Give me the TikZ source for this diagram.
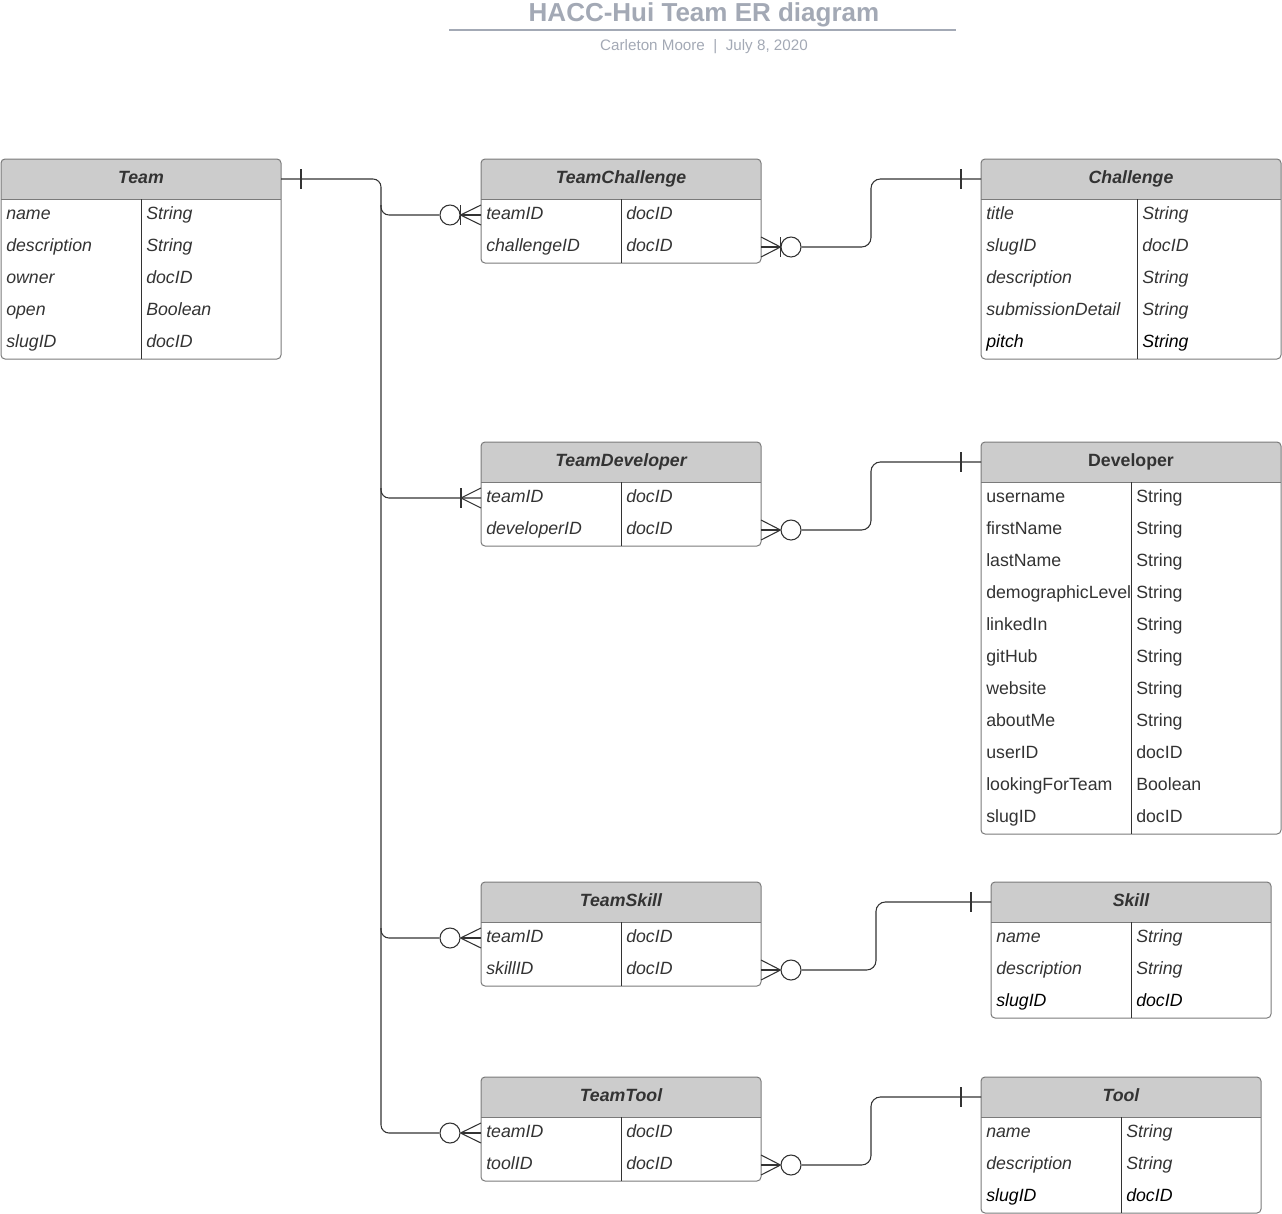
\documentclass[tikz,border=0pt]{standalone}
\usepackage{fontspec}
\setmainfont{Liberation Sans}
\usetikzlibrary{calc}
\definecolor{txt}{HTML}{333333}
\definecolor{headfill}{HTML}{CCCCCC}
\definecolor{bordergray}{HTML}{7A7A7A}
\definecolor{titlecol}{HTML}{A3A9B5}
\definecolor{conncol}{HTML}{333333}
\newcommand\rowfont{\fontsize{13.3}{16}\selectfont}
% #1 name, #2 left, #3 top, #4 width, #5 divider offset, #6 rows, #7 title, #8 shape, #9 rows list
\newcommand\ERtable[9]{%
  \pgfmathsetmacro\ERh{40+32*#6}%
  \begin{scope}
    \clip[rounded corners=3pt] (#2,#3) rectangle ++(#4,\ERh);
    \fill[headfill] (#2,#3) rectangle ++(#4,40);
  \end{scope}
  \node[tablebox, minimum width=#4*0.75pt, minimum height=\ERh*0.75pt] (#1) at (#2,#3) {};
  \draw[bordergray, line width=0.75pt] (#2,#3+40) -- (#2+#4,#3+40);
  \draw[txt, line width=0.75pt] (#2+#5,#3+40) -- (#2+#5,#3+\ERh);
  \node[anchor=base, text=txt, font=\rowfont\bfseries#8, inner sep=0] (#1-title) at (#2+#4/2,#3+24.5) {#7};
  \foreach \a/\b/\c [count=\i] in {#9} {
    \node[anchor=base west, text=\c, font=\rowfont#8, inner sep=0] (#1-\i a) at (#2+5,#3+28+32*\i) {\a};
    \node[anchor=base west, text=\c, font=\rowfont#8, inner sep=0] (#1-\i b) at (#2+#5+5,#3+28+32*\i) {\b};
  }%
}
\begin{document}
\begin{tikzpicture}[x=0.75pt, y=-0.75pt,
  tablebox/.style={draw=bordergray, line width=0.75pt, rounded corners=3pt, anchor=north west, inner sep=0pt, outer sep=0pt},
  conn/.style={draw=conncol, line width=0.8pt},
  ring/.style={draw=conncol, line width=0.8pt, fill=white, circle, minimum size=15pt, inner sep=0pt}]
\useasboundingbox (0,0) rectangle (1282,1214);

% title
\node[anchor=base, text=titlecol, font=\fontsize{19.5}{22}\selectfont\bfseries, inner sep=0] (title) at (704,21) {HACC-Hui Team ER diagram};
\draw[titlecol, line width=1.5pt] (449,30) coordinate (ulA) -- (956,30) coordinate (ulB);
\node[anchor=base, text=titlecol, font=\fontsize{11.4}{14}\selectfont, inner sep=0] (subtitle) at (704,50.5) {Carleton Moore\ \ |\ \ July 8, 2020};

% tables
\ERtable{Team}{1}{159}{280}{140}{5}{Team}{\itshape}{name/String/txt, description/String/txt, owner/docID/txt, open/Boolean/txt, slugID/docID/txt}
\ERtable{TC}{481}{159}{280}{140}{2}{TeamChallenge}{\itshape}{teamID/docID/txt, challengeID/docID/txt}
\ERtable{Ch}{981}{159}{300}{156}{5}{Challenge}{\itshape}{title/String/txt, slugID/docID/txt, description/String/txt, submissionDetail/String/txt, pitch/String/black}
\ERtable{TD}{481}{442}{280}{140}{2}{TeamDeveloper}{\itshape}{teamID/docID/txt, developerID/docID/txt}
\ERtable{Dev}{981}{442}{300}{150}{11}{Developer}{\upshape}{username/String/txt, firstName/String/txt, lastName/String/txt, demographicLevel/String/txt, linkedIn/String/txt, gitHub/String/txt, website/String/txt, aboutMe/String/txt, userID/docID/txt, lookingForTeam/Boolean/txt, slugID/docID/txt}
\ERtable{TS}{481}{882}{280}{140}{2}{TeamSkill}{\itshape}{teamID/docID/txt, skillID/docID/txt}
\ERtable{Sk}{991}{882}{280}{140}{3}{Skill}{\itshape}{name/String/txt, description/String/txt, slugID/docID/black}
\ERtable{TT}{481}{1077}{280}{140}{2}{TeamTool}{\itshape}{teamID/docID/txt, toolID/docID/txt}
\ERtable{To}{981}{1077}{280}{140}{3}{Tool}{\itshape}{name/String/txt, description/String/txt, slugID/docID/black}

% --- left side: Team trunk and branches
\coordinate (teamOut) at ($(Team.north east)+(0,20)$);
\coordinate (tcIn) at ($(TC.north west)+(0,56)$);
\coordinate (tdIn) at ($(TD.north west)+(0,56)$);
\coordinate (tsIn) at ($(TS.north west)+(0,56)$);
\coordinate (ttIn) at ($(TT.north west)+(0,56)$);
\node[ring] (tcRing) at ($(tcIn)+(-31,0)$) {};
\node[ring] (tsRing) at ($(tsIn)+(-31,0)$) {};
\node[ring] (ttRing) at ($(ttIn)+(-31,0)$) {};
\coordinate (tdFoot) at ($(tdIn)+(-20,0)$);

\draw[conn, rounded corners=6pt] (teamOut) -- (381,179) -- (381,1133) -- (ttRing.west);
\draw[conn, rounded corners=6pt] (381,205) -- (381,215) -- (tcRing.west);
\draw[conn, rounded corners=6pt] (381,488) -- (381,498) -- (tdIn);
\draw[conn, rounded corners=6pt] (381,928) -- (381,938) -- (tsRing.west);
% one-mandatory bar at Team
\draw[conn] ($(teamOut)+(20,-10)$) -- ($(teamOut)+(20,10)$);
% crow feet on the left
\foreach \r/\t in {tcRing/tcIn, tsRing/tsIn, ttRing/ttIn} {
  \draw[conn] (\r.east) -- ($(\t)+(0,-10)$);
  \draw[conn] (\r.east) -- (\t);
  \draw[conn] (\r.east) -- ($(\t)+(0,10)$);
}
\draw[conn] (tcRing.east) ++(0,-10) -- ++(0,20);
\draw[conn] (tdFoot) -- ($(tdIn)+(0,-10)$);
\draw[conn] (tdFoot) -- ($(tdIn)+(0,10)$);
\draw[conn] ($(tdFoot)+(0,-10)$) -- ($(tdFoot)+(0,10)$);

% --- right side connectors
\coordinate (tcOut) at ($(TC.north east)+(0,88)$);
\coordinate (tdOut) at ($(TD.north east)+(0,88)$);
\coordinate (tsOut) at ($(TS.north east)+(0,88)$);
\coordinate (ttOut) at ($(TT.north east)+(0,88)$);
\coordinate (chIn) at ($(Ch.north west)+(0,20)$);
\coordinate (devIn) at ($(Dev.north west)+(0,20)$);
\coordinate (skIn) at ($(Sk.north west)+(0,20)$);
\coordinate (toIn) at ($(To.north west)+(0,20)$);
\node[ring] (tcRing2) at ($(tcOut)+(30,0)$) {};
\node[ring] (tdRing2) at ($(tdOut)+(30,0)$) {};
\node[ring] (tsRing2) at ($(tsOut)+(30,0)$) {};
\node[ring] (ttRing2) at ($(ttOut)+(30,0)$) {};

\draw[conn, rounded corners=7pt] (tcRing2.east) -- (871,247) -- (871,179) -- (chIn);
\draw[conn, rounded corners=7pt] (tdRing2.east) -- (871,530) -- (871,462) -- (devIn);
\draw[conn, rounded corners=7pt] (tsRing2.east) -- (876,970) -- (876,902) -- (skIn);
\draw[conn, rounded corners=7pt] (ttRing2.east) -- (871,1165) -- (871,1097) -- (toIn);
\foreach \r/\t in {tcRing2/tcOut, tdRing2/tdOut, tsRing2/tsOut, ttRing2/ttOut} {
  \draw[conn] (\r.west) -- ($(\t)+(0,-10)$);
  \draw[conn] (\r.west) -- (\t);
  \draw[conn] (\r.west) -- ($(\t)+(0,10)$);
}
\draw[conn] (tcRing2.west) ++(0,-10) -- ++(0,20);
\foreach \p in {chIn, devIn, skIn, toIn} {
  \draw[conn] ($(\p)+(-20,-10)$) -- ($(\p)+(-20,10)$);
}
\end{tikzpicture}
\end{document}
